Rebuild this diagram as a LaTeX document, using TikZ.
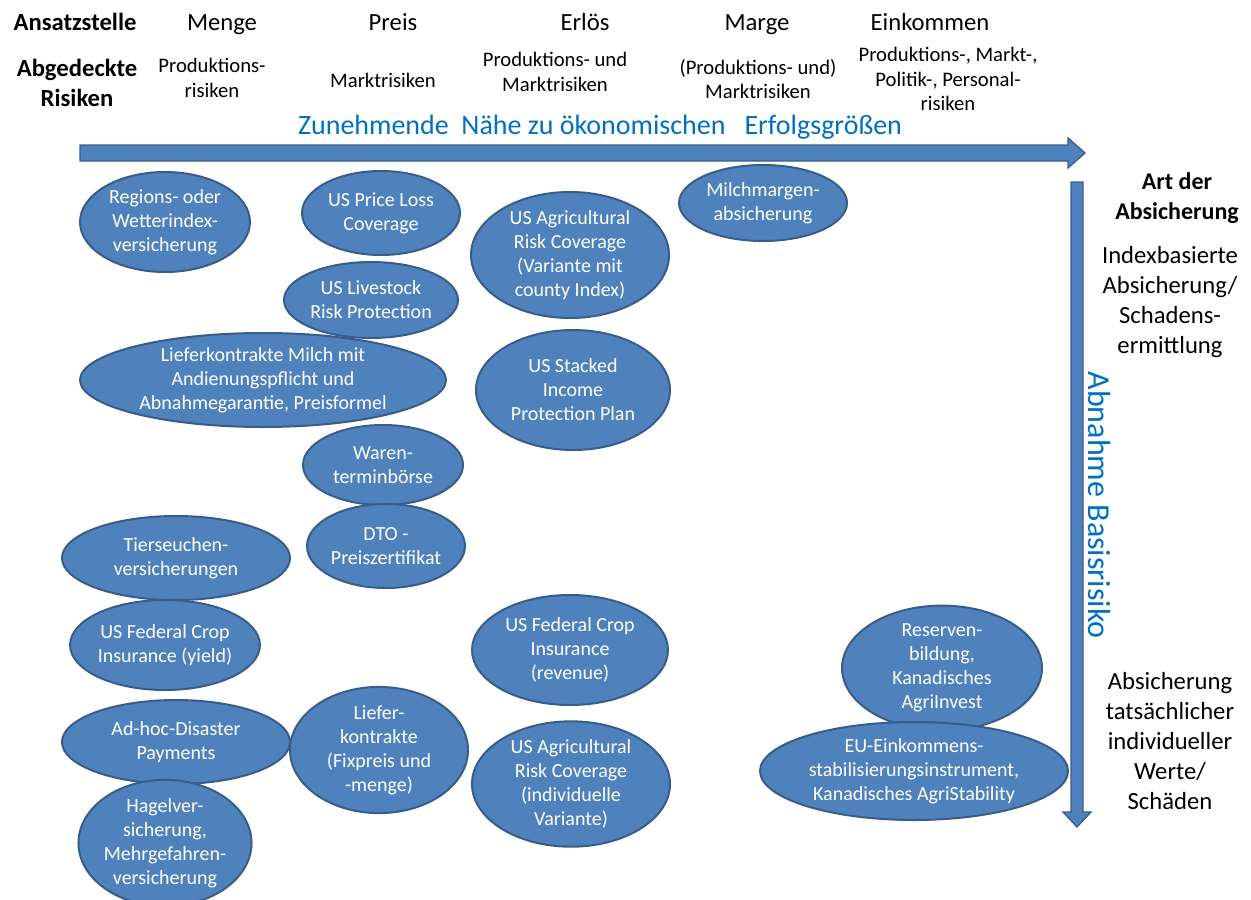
\documentclass[tikz,border=0pt]{standalone}
\usepackage{fontspec}
\setmainfont{Carlito}
\usetikzlibrary{shapes.geometric}

\definecolor{fillblue}{RGB}{79,129,189}
\definecolor{lineblue}{RGB}{56,93,138}
\definecolor{titleblue}{RGB}{0,112,192}

\tikzset{
  massnahme/.style={ellipse, draw=lineblue, line width=1.5pt, fill=fillblue, text=white,
    align=center, inner sep=0pt, font=\fontsize{15}{18}\selectfont},
  esize/.style 2 args={minimum width=#1*0.75pt, minimum height=#2*0.75pt},
  kopf/.style={font=\fontsize{18.5}{22.5}\selectfont, align=center, inner sep=0.75pt},
  risiko/.style={font=\fontsize{15.5}{18.5}\selectfont, align=center, inner sep=0.75pt},
  seite/.style={font=\fontsize{18.5}{22.5}\selectfont, align=center, inner sep=0.75pt},
  achse/.style={text=titleblue, inner sep=0.75pt},
  blockpfeil/.style={fill=fillblue, draw=lineblue, line width=1pt},
}

\begin{document}
\begin{tikzpicture}[x=0.75pt,y=0.75pt,yscale=-1,xscale=1]
\path[use as bounding box] (0,0) rectangle (1251,899);

%Header: Ansatzstelle
\node[kopf, anchor=base, font=\fontsize{18.5}{22.5}\selectfont\bfseries] (ansatz) at (75,31) {Ansatzstelle};
\node[kopf, anchor=base] (menge) at (222,31) {Menge};
\node[kopf, anchor=base] (preis) at (393,31) {Preis};
\node[kopf, anchor=base] (erloes) at (585,31) {Erlös};
\node[kopf, anchor=base] (marge) at (757,31) {Marge};
\node[kopf, anchor=base] (einkommen) at (930,31) {Einkommen};

%Header: Abgedeckte Risiken
\node[kopf, font=\fontsize{18.5}{22.5}\selectfont\bfseries] (risiken) at (77,83) {Abgedeckte\\Risiken};
\node[risiko] (rmenge) at (212,78) {Produktions-\\risiken};
\node[risiko] (rpreis) at (383,80) {Marktrisiken};
\node[risiko] (rerloes) at (555,72) {Produktions- und\\Marktrisiken};
\node[risiko] (rmarge) at (758,79) {(Produktions- und)\\Marktrisiken};
\node[risiko] (reinkommen) at (948,79) {Produktions-, Markt-,\\Politik-, Personal-\\risiken};

%Arrow: horizontal
\node[achse, font=\fontsize{21}{24}\selectfont] (naehe) at (600,127) {Zunehmende\ \ Nähe zu ökonomischen\ \ \ Erfolgsgrößen};
\draw[blockpfeil] (80,145) -- (1068,145) -- (1068,138) -- (1085,153) -- (1068,168) -- (1068,161) -- (80,161) -- cycle;

%Arrow: vertical
\draw[blockpfeil] (1071,182) -- (1083,182) -- (1083,812) -- (1091,812) -- (1077,827) -- (1063,812) -- (1071,812) -- cycle;
\node[achse, font=\fontsize{24}{28}\selectfont, rotate=-90] (basis) at (1099,505) {Abnahme Basisrisiko};

%Side: Art der Absicherung
\node[seite, font=\fontsize{18}{22.5}\selectfont\bfseries] (art) at (1177,198) {Art der\\Absicherung};
\node[seite] (index) at (1170,302) {Indexbasierte\\Absicherung/\\Schadens-\\ermittlung};
\node[seite] (individuell) at (1170,741) {Absicherung\\tatsächlicher\\individueller\\Werte/\\Schäden};

%Ellipses: Menge
\node[massnahme, esize={170}{100}] (wetter) at (165,222) {Regions- oder\\Wetterindex-\\versicherung};
\node[massnahme, esize={366}{94}] (milch) at (263,380) {Lieferkontrakte Milch mit\\Andienungspflicht und\\Abnahmegarantie, Preisformel};
\node[massnahme, esize={228}{84}] (tierseuchen) at (176,558) {Tierseuchen-\\versicherungen};
\node[massnahme, esize={170}{90}] (yield) at (165,645) {US Federal Crop\\Insurance (yield)};
\node[massnahme, esize={228}{84}] (adhoc) at (176,742) {Ad-hoc-Disaster\\Payments};
\node[massnahme, esize={170}{114}] (hagel) at (165,843) {Hagelver-\\sicherung,\\Mehrgefahren-\\versicherung};

%Ellipses: Preis
\node[massnahme, esize={158}{84}] (plc) at (381,213) {US Price Loss\\Coverage};
\node[massnahme, esize={174}{76}] (lrp) at (371,300) {US Livestock\\Risk Protection};
\node[massnahme, esize={160}{80}] (waren) at (383,465) {Waren-\\terminbörse};
\node[massnahme, esize={158}{84}] (dto) at (386,546) {DTO -\\Preiszertifikat};
\node[massnahme, esize={178}{100}] (liefer) at (379,750) {Liefer-\\kontrakte\\(Fixpreis und\\-menge)};

%Ellipses: Erloes
\node[massnahme, esize={198}{120}] (arccounty) at (570,255) {US Agricultural\\Risk Coverage\\(Variante mit\\county Index)};
\node[massnahme, esize={194}{120}] (stax) at (573,390) {US Stacked\\Income\\Protection Plan};
\node[massnahme, esize={196}{110}] (revenue) at (570,650) {US Federal Crop\\Insurance\\(revenue)};
\node[massnahme, esize={198}{122}] (arcindiv) at (571,784) {US Agricultural\\Risk Coverage\\(individuelle\\Variante)};

%Ellipses: Marge, Einkommen
\node[massnahme, esize={168}{76}] (mpp) at (763,203) {Milchmargen-\\absicherung};
\node[massnahme, esize={200}{104}] (agriinvest) at (942,668) {Reserven-\\bildung,\\Kanadisches\\AgriInvest};
\node[massnahme, esize={308}{98}] (agristability) at (914,771) {EU-Einkommens-\\stabilisierungsinstrument,\\Kanadisches AgriStability};

\end{tikzpicture}
\end{document}
